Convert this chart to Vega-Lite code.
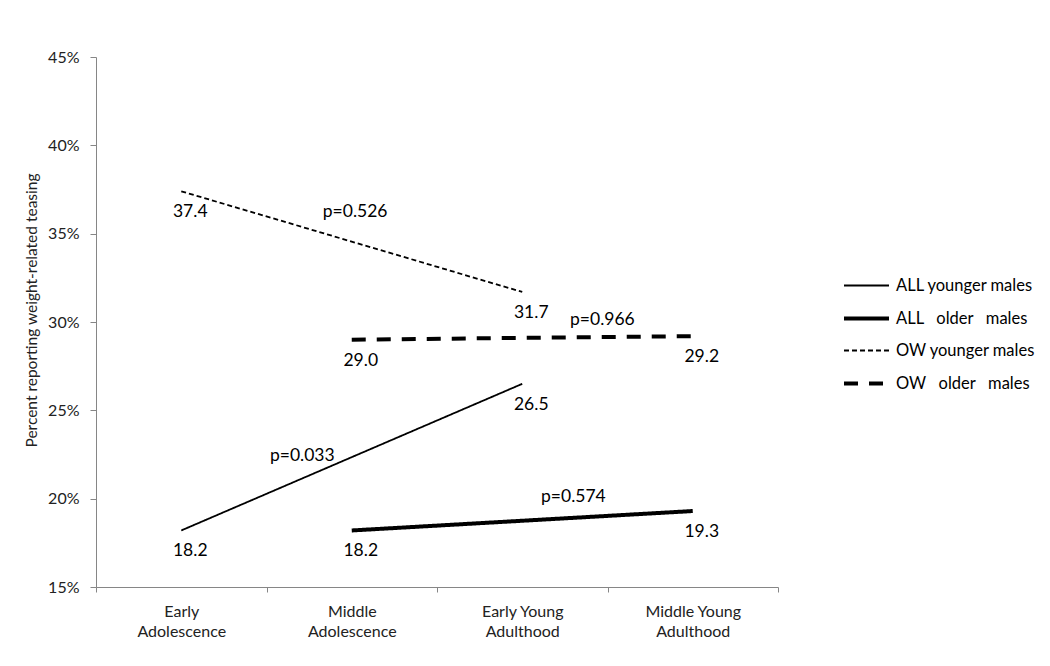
{
  "$schema": "https://vega.github.io/schema/vega-lite/v6.json",
  "width": 682,
  "height": 530,
  "autosize": {"type": "none"},
  "padding": {"left": 96, "top": 57, "right": 272, "bottom": 79},
  "background": "white",
  "config": {
    "view": {"stroke": null},
    "font": "Lato",
    "axis": {"domainColor": "#868686", "tickColor": "#868686", "labelColor": "#222", "titleColor": "#222", "grid": false, "labelFont": "Lato", "titleFont": "Lato"}
  },
  "datasets": {
    "lines": [
      {"series": "ALL younger males", "phase": "Early Adolescence", "value": 18.2},
      {"series": "ALL younger males", "phase": "Early Young Adulthood", "value": 26.5},
      {"series": "ALL older males", "phase": "Middle Adolescence", "value": 18.2},
      {"series": "ALL older males", "phase": "Middle Young Adulthood", "value": 19.3},
      {"series": "OW younger males", "phase": "Early Adolescence", "value": 37.4},
      {"series": "OW younger males", "phase": "Early Young Adulthood", "value": 31.7},
      {"series": "OW older males", "phase": "Middle Adolescence", "value": 29.0},
      {"series": "OW older males", "phase": "Middle Young Adulthood", "value": 29.2}
    ],
    "pvals": [
      {"label": "p=0.526", "xi": 1.02, "value": 36.2},
      {"label": "p=0.966", "xi": 2.47, "value": 30.1},
      {"label": "p=0.033", "xi": 0.71, "value": 22.4},
      {"label": "p=0.574", "xi": 2.3, "value": 20.1}
    ]
  },
  "layer": [
    {
      "data": {"name": "lines"},
      "encoding": {
        "x": {
          "field": "phase", "type": "nominal",
          "scale": {"domain": ["Early Adolescence", "Middle Adolescence", "Early Young Adulthood", "Middle Young Adulthood"], "paddingInner": 0, "paddingOuter": 0},
          "axis": {
            "title": null, "labelAngle": 0, "tickBand": "extent", "tickSize": 5,
            "labelPadding": 11, "labelFontSize": 16, "labelLineHeight": 20, "labelBaseline": "top",
            "labelExpr": "datum.value == null ? '' : datum.value == 'Early Young Adulthood' ? ['Early Young','Adulthood'] : datum.value == 'Middle Young Adulthood' ? ['Middle Young','Adulthood'] : split(datum.value, ' ')"
          }
        },
        "y": {
          "field": "value", "type": "quantitative",
          "scale": {"domain": [15, 45], "nice": false, "zero": false},
          "axis": {
            "title": "Percent reporting weight-related teasing", "titleFontSize": 15.5, "titleFontWeight": "normal", "titlePadding": 8, "titleY": 253,
            "values": [15, 20, 25, 30, 35, 40, 45], "labelExpr": "datum.value + '%'", "labelFontSize": 16, "tickSize": 6, "labelPadding": 11
          }
        }
      },
      "layer": [
        {
          "mark": {"type": "line", "color": "black", "strokeCap": "butt"},
          "encoding": {
            "detail": {"field": "series"},
            "strokeDash": {
              "field": "series", "type": "nominal",
              "scale": {"domain": ["ALL younger males", "ALL older males", "OW younger males", "OW older males"], "range": [[1, 0], [1, 0], [5, 3], [14, 11]]},
              "legend": {
                "title": null, "orient": "none", "legendX": 746, "legendY": 205, "padding": 0,
                "symbolType": "stroke", "symbolSize": 2025, "symbolStrokeColor": "black",
                "labelFontSize": 16.5, "labelColor": "black", "labelFont": "Lato", "labelOffset": 5, "rowPadding": -2.5,
                "labelExpr": "datum.value == 'ALL older males' ? 'ALL\u00a0\u00a0\u00a0older\u00a0\u00a0\u00a0males' : datum.value == 'OW older males' ? 'OW\u00a0\u00a0\u00a0older\u00a0\u00a0\u00a0males' : datum.value"
              }
            },
            "strokeWidth": {
              "field": "series", "type": "nominal",
              "scale": {"type": "ordinal", "domain": ["ALL younger males", "ALL older males", "OW younger males", "OW older males"], "range": [1.8, 4, 1.8, 4]},
              "legend": {
                "title": null, "orient": "none", "legendX": 746, "legendY": 205, "padding": 0,
                "symbolType": "stroke", "symbolSize": 2025, "symbolStrokeColor": "black",
                "labelFontSize": 16.5, "labelColor": "black", "labelFont": "Lato", "labelOffset": 5, "rowPadding": -2.5,
                "labelExpr": "datum.value == 'ALL older males' ? 'ALL\u00a0\u00a0\u00a0older\u00a0\u00a0\u00a0males' : datum.value == 'OW older males' ? 'OW\u00a0\u00a0\u00a0older\u00a0\u00a0\u00a0males' : datum.value"
              }
            }
          }
        },
        {
          "mark": {"type": "text", "fontSize": 17.5, "color": "black", "dx": 9, "dy": 21, "align": "center", "baseline": "middle"},
          "encoding": {
            "text": {"field": "value", "type": "quantitative", "format": ".1f"}
          }
        }
      ]
    },
    {
      "data": {"name": "pvals"},
      "mark": {"type": "text", "fontSize": 17.5, "color": "black", "align": "center", "baseline": "middle"},
      "encoding": {
        "x": {"field": "xi", "type": "quantitative", "scale": {"domain": [-0.5, 3.5], "nice": false, "zero": false}, "axis": null},
        "y": {"field": "value", "type": "quantitative"},
        "text": {"field": "label"}
      }
    }
  ],
  "resolve": {"scale": {"x": "independent"}}
}
